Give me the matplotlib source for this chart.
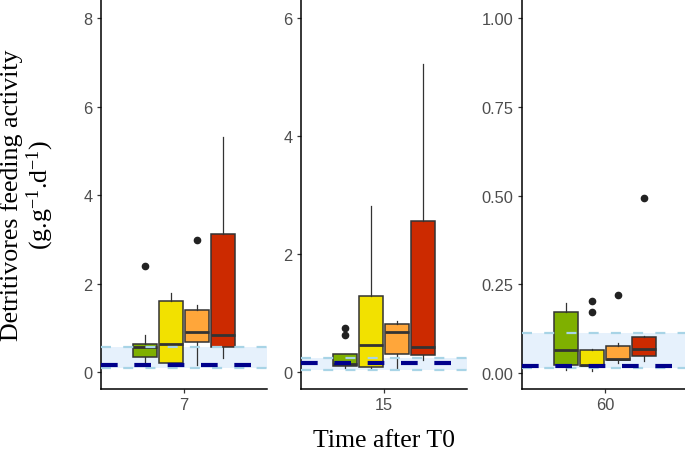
import numpy as np
import matplotlib
matplotlib.use("Agg")
import matplotlib.pyplot as plt
from matplotlib.ticker import FormatStrFormatter

plt.rcParams['mathtext.fontset'] = 'custom'
plt.rcParams['mathtext.rm'] = 'Liberation Serif'
plt.rcParams['mathtext.it'] = 'Liberation Serif:italic'

times = ["7", "15", "60"]
box_colors = ["#7FB000", "#F2E100", "#FFA63A", "#CC2A00"]

# box stats per panel: [whislo, q1, med, q3, whishi] for each of the 4 groups
stats_7 = [[0.22, 0.35, 0.57, 0.63, 0.84],
           [0.21, 0.22, 0.65, 1.61, 1.80],
           [0.17, 0.69, 0.90, 1.41, 1.53],
           [0.33, 0.57, 0.84, 3.13, 5.32]]
fliers_7 = [[2.39], [], [2.99], []]

stats_15 = [[0.07, 0.10, 0.13, 0.31, 0.31],
            [0.06, 0.08, 0.46, 1.28, 2.81],
            [0.07, 0.30, 0.67, 0.81, 0.86],
            [0.21, 0.29, 0.43, 2.56, 5.22]]
fliers_15 = [[0.63, 0.74], [], [], []]

stats_60 = [[0.008, 0.023, 0.066, 0.173, 0.198],
            [0.007, 0.021, 0.024, 0.064, 0.069],
            [0.027, 0.037, 0.041, 0.076, 0.084],
            [0.035, 0.047, 0.068, 0.103, 0.105]]
fliers_60 = [[], [0.171, 0.203], [0.22], [0.494]]

all_stats = [stats_7, stats_15, stats_60]
all_fliers = [fliers_7, fliers_15, fliers_60]

# control reference: mean line and band
ctrl_mean = [0.165, 0.15, 0.021]
ctrl_lo = [0.09, 0.03, 0.013]
ctrl_hi = [0.565, 0.245, 0.112]

ylims = [(-0.376, 8.406), (-0.288, 6.305), (-0.045, 1.052)]
yticks = [[0, 2, 4, 6, 8], [0, 2, 4, 6], [0, 0.25, 0.5, 0.75, 1.0]]

offsets = [-0.282, -0.094, 0.094, 0.282]

fig = plt.figure(figsize=(6.85, 4.52), dpi=100)
lefts = [101/685, 301/685, 522/685]
bottom = 1 - 390/452
height = 389/452
width = 166/685

for k in range(3):
    ax = fig.add_axes([lefts[k], bottom, width, height])
    stats = []
    for j in range(4):
        s = all_stats[k][j]
        stats.append(dict(whislo=s[0], q1=s[1], med=s[2], q3=s[3], whishi=s[4],
                          fliers=all_fliers[k][j]))
    pos = [1 + o for o in offsets]

    ax.axhspan(ctrl_lo[k], ctrl_hi[k], color="#d6e8fa", alpha=0.6, lw=0, zorder=0.5)

    bp = ax.bxp(stats, positions=pos, widths=0.172, patch_artist=True, showcaps=False,
                boxprops=dict(edgecolor="#333333", linewidth=1.1),
                medianprops=dict(color="#333333", linewidth=2.0),
                whiskerprops=dict(color="#333333", linewidth=0.9),
                flierprops=dict(marker="o", markerfacecolor="#222222",
                                markeredgecolor="#222222", markersize=4.5))
    for patch, c in zip(bp["boxes"], box_colors):
        patch.set_facecolor(c)

    for yv in (ctrl_lo[k], ctrl_hi[k]):
        ax.axhline(yv, color="#a8d4e6", lw=1.6, dashes=(4.5, 5.5), zorder=4)
    ax.axhline(ctrl_mean[k], color="#00008B", lw=3, dashes=(4, 4), zorder=5)

    ax.set_xlim(0.4, 1.6)
    ax.set_ylim(*ylims[k])
    ax.set_xticks([1])
    ax.set_xticklabels([times[k]])
    ax.set_yticks(yticks[k])
    if k == 2:
        ax.yaxis.set_major_formatter(FormatStrFormatter('%.2f'))
    else:
        ax.yaxis.set_major_formatter(FormatStrFormatter('%d'))
    for sp in ("top", "right"):
        ax.spines[sp].set_visible(False)
    for sp in ("left", "bottom"):
        ax.spines[sp].set_linewidth(1.1)
        ax.spines[sp].set_color("black")
    ax.tick_params(length=3, width=0.9, color="#333333", labelcolor="#4D4D4D",
                   labelsize=11.8, pad=3, labelfontfamily="Liberation Sans")
    ax.set_facecolor("none")

fig.text(28/685, 1 - 195/452, "Detritivores feeding activity\n(g.g$^{-1}$.d$^{-1}$)",
         rotation=90, ha="center", va="center", multialignment="center",
         fontsize=18.6, family="Liberation Serif", linespacing=1.1)
fig.text(384/685, 1 - 441/452, "Time after T0", ha="center", va="center",
         fontsize=18.6, family="Liberation Serif")

fig.savefig("out.png", dpi=100)
